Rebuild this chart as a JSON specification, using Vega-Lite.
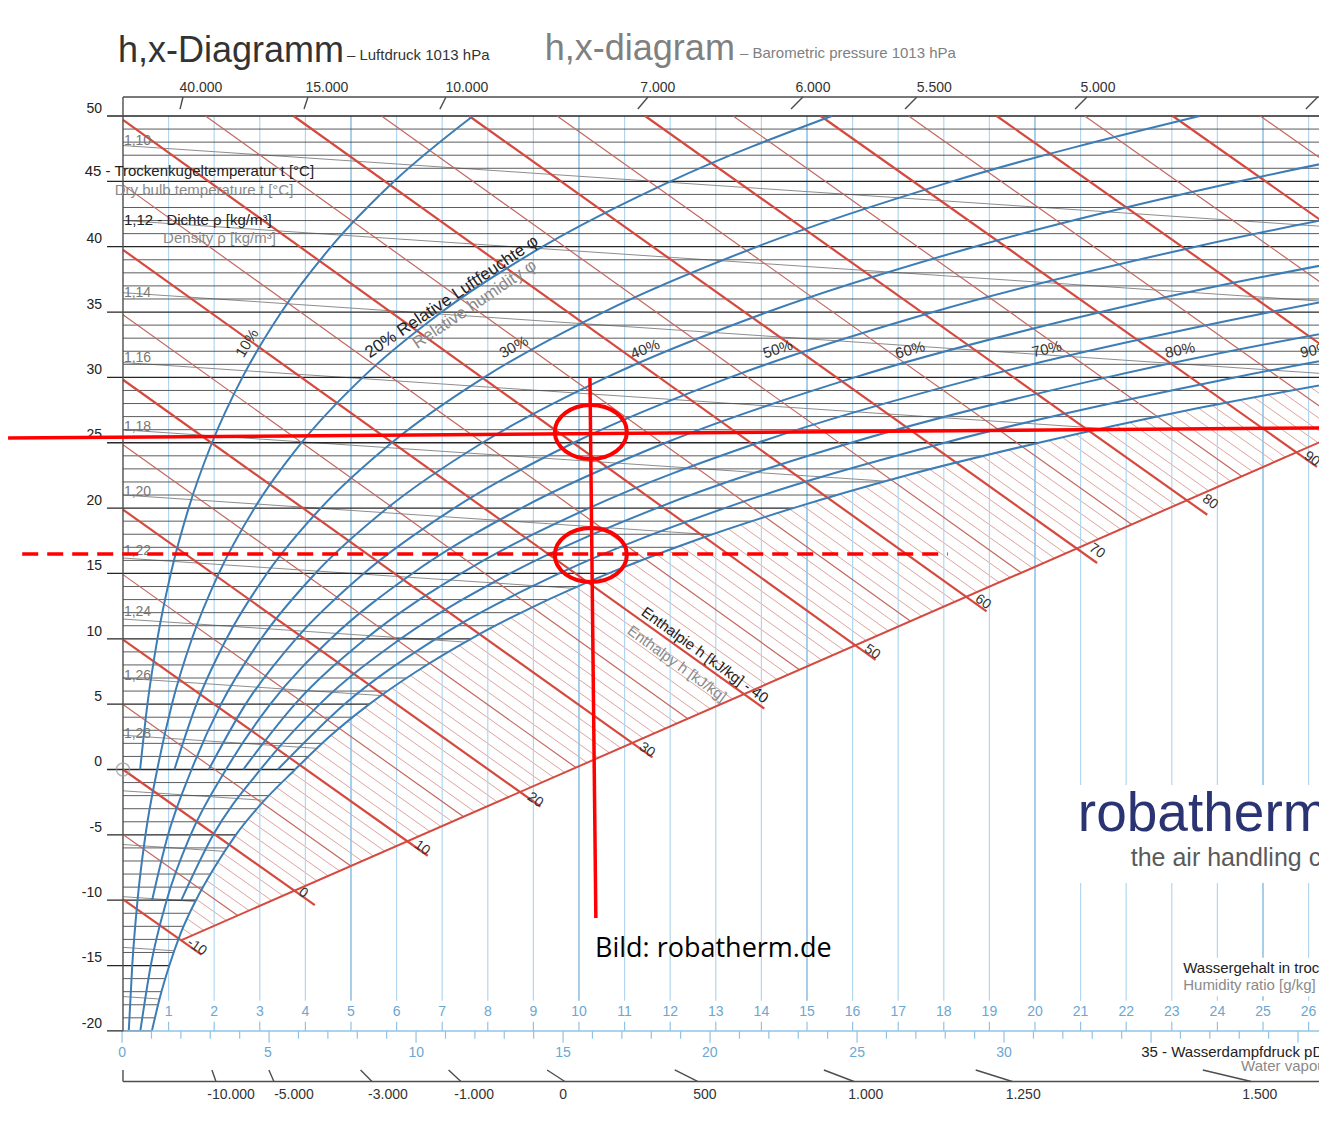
{
"$schema": "https://vega.github.io/schema/vega-lite/v6.json",
"width": 1319, "height": 1123, "autosize": "none", "padding": 0, "background": "white",
"config": {"view": {"stroke": null}, "font": "Liberation Sans"},
"encoding": {
 "x": {"field": "x", "type": "quantitative", "scale": {"domain": [-2.697, 26.228], "nice": false, "zero": false}, "axis": null},
 "y": {"field": "t", "type": "quantitative", "scale": {"domain": [-27.047, 58.875], "nice": false, "zero": false}, "axis": null}
},
"datasets": {
 "enth": [
  {"h":-10,"k":"A","x":0,"t":-9.94,"x2":1.721,"t2":-14.17},
  {"h":0,"k":"A","x":0,"t":0,"x2":4.207,"t2":-10.38},
  {"h":10,"k":"A","x":0,"t":9.94,"x2":6.684,"t2":-6.6},
  {"h":20,"k":"A","x":0,"t":19.88,"x2":9.153,"t2":-2.83},
  {"h":30,"k":"A","x":0,"t":29.82,"x2":11.612,"t2":0.92},
  {"h":40,"k":"A","x":0,"t":39.76,"x2":14.063,"t2":4.66},
  {"h":50,"k":"A","x":0,"t":49.7,"x2":16.505,"t2":8.39},
  {"h":60,"k":"A","x":3.74,"t":50,"x2":18.938,"t2":12.1},
  {"h":70,"k":"A","x":7.59,"t":50,"x2":21.362,"t2":15.8},
  {"h":80,"k":"A","x":11.45,"t":50,"x2":23.777,"t2":19.49},
  {"h":90,"k":"A","x":15.3,"t":50,"x2":26.184,"t2":23.16},
  {"h":100,"k":"A","x":19.16,"t":50,"x2":28.582,"t2":26.82},
  {"h":110,"k":"A","x":23.02,"t":50,"x2":30.971,"t2":30.47},
  {"h":-5,"k":"B","x":0,"t":-4.97,"x2":2.515,"t2":-11.17},
  {"h":5,"k":"B","x":0,"t":4.97,"x2":4.997,"t2":-7.38},
  {"h":15,"k":"B","x":0,"t":14.91,"x2":7.47,"t2":-3.61},
  {"h":25,"k":"B","x":0,"t":24.85,"x2":9.933,"t2":0.15},
  {"h":35,"k":"B","x":0,"t":34.79,"x2":12.388,"t2":3.89},
  {"h":45,"k":"B","x":0,"t":44.73,"x2":14.835,"t2":7.63},
  {"h":55,"k":"B","x":1.81,"t":50,"x2":17.272,"t2":11.35},
  {"h":65,"k":"B","x":5.67,"t":50,"x2":19.701,"t2":15.05},
  {"h":75,"k":"B","x":9.52,"t":50,"x2":22.121,"t2":18.75},
  {"h":85,"k":"B","x":13.38,"t":50,"x2":24.532,"t2":22.43},
  {"h":95,"k":"B","x":17.23,"t":50,"x2":26.934,"t2":26.09},
  {"h":105,"k":"B","x":21.09,"t":50,"x2":29.327,"t2":29.74},
  {"h":115,"k":"B","x":24.94,"t":50,"x2":31.712,"t2":33.38},
  {"h":-9,"k":"C","x":0,"t":-8.95,"x2":1.52,"t2":-12.69},
  {"h":-8,"k":"C","x":0,"t":-7.95,"x2":1.769,"t2":-12.31},
  {"h":-7,"k":"C","x":0,"t":-6.96,"x2":2.018,"t2":-11.93},
  {"h":-6,"k":"C","x":0,"t":-5.96,"x2":2.267,"t2":-11.55},
  {"h":-4,"k":"C","x":0,"t":-3.98,"x2":2.764,"t2":-10.79},
  {"h":-3,"k":"C","x":0,"t":-2.98,"x2":3.012,"t2":-10.41},
  {"h":-2,"k":"C","x":0,"t":-1.99,"x2":3.261,"t2":-10.03},
  {"h":-1,"k":"C","x":0,"t":-0.99,"x2":3.509,"t2":-9.66},
  {"h":1,"k":"C","x":0,"t":0.99,"x2":4.005,"t2":-8.9},
  {"h":2,"k":"C","x":0,"t":1.99,"x2":4.253,"t2":-8.52},
  {"h":3,"k":"C","x":0,"t":2.98,"x2":4.501,"t2":-8.14},
  {"h":4,"k":"C","x":0,"t":3.98,"x2":4.749,"t2":-7.76},
  {"h":6,"k":"C","x":0,"t":5.96,"x2":5.244,"t2":-7.01},
  {"h":7,"k":"C","x":0,"t":6.96,"x2":5.492,"t2":-6.63},
  {"h":8,"k":"C","x":0,"t":7.95,"x2":5.74,"t2":-6.25},
  {"h":9,"k":"C","x":0,"t":8.95,"x2":5.987,"t2":-5.87},
  {"h":11,"k":"C","x":0,"t":10.93,"x2":6.481,"t2":-5.12},
  {"h":12,"k":"C","x":0,"t":11.93,"x2":6.729,"t2":-4.74},
  {"h":13,"k":"C","x":0,"t":12.92,"x2":6.976,"t2":-4.37},
  {"h":14,"k":"C","x":0,"t":13.92,"x2":7.223,"t2":-3.99},
  {"h":16,"k":"C","x":0,"t":15.9,"x2":7.716,"t2":-3.24},
  {"h":17,"k":"C","x":0,"t":16.9,"x2":7.963,"t2":-2.86},
  {"h":18,"k":"C","x":0,"t":17.89,"x2":8.21,"t2":-2.48},
  {"h":19,"k":"C","x":0,"t":18.89,"x2":8.456,"t2":-2.11},
  {"h":21,"k":"C","x":0,"t":20.87,"x2":8.949,"t2":-1.35},
  {"h":22,"k":"C","x":0,"t":21.87,"x2":9.195,"t2":-0.98},
  {"h":23,"k":"C","x":0,"t":22.86,"x2":9.441,"t2":-0.6},
  {"h":24,"k":"C","x":0,"t":23.86,"x2":9.687,"t2":-0.23},
  {"h":26,"k":"C","x":0,"t":25.85,"x2":10.179,"t2":0.52},
  {"h":27,"k":"C","x":0,"t":26.84,"x2":10.425,"t2":0.9},
  {"h":28,"k":"C","x":0,"t":27.83,"x2":10.671,"t2":1.27},
  {"h":29,"k":"C","x":0,"t":28.83,"x2":10.916,"t2":1.65},
  {"h":31,"k":"C","x":0,"t":30.82,"x2":11.407,"t2":2.4},
  {"h":32,"k":"C","x":0,"t":31.81,"x2":11.653,"t2":2.77},
  {"h":33,"k":"C","x":0,"t":32.8,"x2":11.898,"t2":3.15},
  {"h":34,"k":"C","x":0,"t":33.8,"x2":12.143,"t2":3.52},
  {"h":36,"k":"C","x":0,"t":35.79,"x2":12.633,"t2":4.27},
  {"h":37,"k":"C","x":0,"t":36.78,"x2":12.878,"t2":4.64},
  {"h":38,"k":"C","x":0,"t":37.77,"x2":13.123,"t2":5.02},
  {"h":39,"k":"C","x":0,"t":38.77,"x2":13.368,"t2":5.39},
  {"h":41,"k":"C","x":0,"t":40.76,"x2":13.857,"t2":6.14},
  {"h":42,"k":"C","x":0,"t":41.75,"x2":14.102,"t2":6.51},
  {"h":43,"k":"C","x":0,"t":42.74,"x2":14.346,"t2":6.88},
  {"h":44,"k":"C","x":0,"t":43.74,"x2":14.59,"t2":7.25},
  {"h":46,"k":"C","x":0,"t":45.73,"x2":15.079,"t2":8.0},
  {"h":47,"k":"C","x":0,"t":46.72,"x2":15.323,"t2":8.37},
  {"h":48,"k":"C","x":0,"t":47.71,"x2":15.567,"t2":8.75},
  {"h":49,"k":"C","x":0,"t":48.71,"x2":15.811,"t2":9.12},
  {"h":51,"k":"C","x":0.27,"t":50,"x2":16.298,"t2":9.86},
  {"h":52,"k":"C","x":0.66,"t":50,"x2":16.542,"t2":10.23},
  {"h":53,"k":"C","x":1.04,"t":50,"x2":16.785,"t2":10.6},
  {"h":54,"k":"C","x":1.43,"t":50,"x2":17.029,"t2":10.98},
  {"h":56,"k":"C","x":2.2,"t":50,"x2":17.515,"t2":11.72},
  {"h":57,"k":"C","x":2.58,"t":50,"x2":17.759,"t2":12.09},
  {"h":58,"k":"C","x":2.97,"t":50,"x2":18.002,"t2":12.46},
  {"h":59,"k":"C","x":3.35,"t":50,"x2":18.245,"t2":12.83},
  {"h":61,"k":"C","x":4.12,"t":50,"x2":18.73,"t2":13.57},
  {"h":62,"k":"C","x":4.51,"t":50,"x2":18.973,"t2":13.94},
  {"h":63,"k":"C","x":4.9,"t":50,"x2":19.216,"t2":14.31},
  {"h":64,"k":"C","x":5.28,"t":50,"x2":19.458,"t2":14.68},
  {"h":66,"k":"C","x":6.05,"t":50,"x2":19.943,"t2":15.42},
  {"h":67,"k":"C","x":6.44,"t":50,"x2":20.185,"t2":15.79},
  {"h":68,"k":"C","x":6.82,"t":50,"x2":20.428,"t2":16.16},
  {"h":69,"k":"C","x":7.21,"t":50,"x2":20.67,"t2":16.53},
  {"h":71,"k":"C","x":7.98,"t":50,"x2":21.154,"t2":17.27},
  {"h":72,"k":"C","x":8.37,"t":50,"x2":21.396,"t2":17.64},
  {"h":73,"k":"C","x":8.75,"t":50,"x2":21.637,"t2":18.01},
  {"h":74,"k":"C","x":9.14,"t":50,"x2":21.879,"t2":18.38},
  {"h":76,"k":"C","x":9.91,"t":50,"x2":22.362,"t2":19.11},
  {"h":77,"k":"C","x":10.29,"t":50,"x2":22.604,"t2":19.48},
  {"h":78,"k":"C","x":10.68,"t":50,"x2":22.845,"t2":19.85},
  {"h":79,"k":"C","x":11.06,"t":50,"x2":23.086,"t2":20.22},
  {"h":81,"k":"C","x":11.83,"t":50,"x2":23.568,"t2":20.96},
  {"h":82,"k":"C","x":12.22,"t":50,"x2":23.809,"t2":21.32},
  {"h":83,"k":"C","x":12.61,"t":50,"x2":24.05,"t2":21.69},
  {"h":84,"k":"C","x":12.99,"t":50,"x2":24.291,"t2":22.06},
  {"h":86,"k":"C","x":13.76,"t":50,"x2":24.772,"t2":22.79},
  {"h":87,"k":"C","x":14.15,"t":50,"x2":25.013,"t2":23.16},
  {"h":88,"k":"C","x":14.53,"t":50,"x2":25.253,"t2":23.53},
  {"h":89,"k":"C","x":14.92,"t":50,"x2":25.493,"t2":23.89},
  {"h":91,"k":"C","x":15.69,"t":50,"x2":25.974,"t2":24.63},
  {"h":92,"k":"C","x":16.07,"t":50,"x2":26.214,"t2":24.99},
  {"h":93,"k":"C","x":16.46,"t":50,"x2":26.454,"t2":25.36},
  {"h":94,"k":"C","x":16.85,"t":50,"x2":26.694,"t2":25.73},
  {"h":96,"k":"C","x":17.62,"t":50,"x2":27.174,"t2":26.46},
  {"h":97,"k":"C","x":18.0,"t":50,"x2":27.413,"t2":26.82}
 ],
 "rh": [
  {"p":10,"x":0.3754,"t":0},{"p":10,"x":0.5361,"t":5},{"p":10,"x":0.7549,"t":10},{"p":10,"x":1.0488,"t":15},{"p":10,"x":1.4393,"t":20},{"p":10,"x":1.9519,"t":25},{"p":10,"x":2.6179,"t":30},{"p":10,"x":3.4745,"t":35},{"p":10,"x":4.5663,"t":40},{"p":10,"x":5.946,"t":45},{"p":10,"x":7.676,"t":50},
  {"p":20,"x":0.1267,"t":-20},{"p":20,"x":0.2029,"t":-15},{"p":20,"x":0.3193,"t":-10},{"p":20,"x":0.4936,"t":-5},{"p":20,"x":0.7513,"t":0},{"p":20,"x":1.073,"t":5},{"p":20,"x":1.5116,"t":10},{"p":20,"x":2.1012,"t":15},{"p":20,"x":2.8853,"t":20},{"p":20,"x":3.916,"t":25},{"p":20,"x":5.2579,"t":30},{"p":20,"x":6.9881,"t":35},{"p":20,"x":9.2002,"t":40},{"p":20,"x":12.0067,"t":45},{"p":20,"x":15.5439,"t":50},
  {"p":30,"x":1.1276,"t":0},{"p":30,"x":1.611,"t":5},{"p":30,"x":2.2701,"t":10},{"p":30,"x":3.1571,"t":15},{"p":30,"x":4.3379,"t":20},{"p":30,"x":5.8927,"t":25},{"p":30,"x":7.9202,"t":30},{"p":30,"x":10.5413,"t":35},{"p":30,"x":13.9031,"t":40},{"p":30,"x":18.1857,"t":45},{"p":30,"x":23.611,"t":50},
  {"p":40,"x":0.6388,"t":-10},{"p":40,"x":0.9879,"t":-5},{"p":40,"x":1.5044,"t":0},{"p":40,"x":2.1498,"t":5},{"p":40,"x":3.0305,"t":10},{"p":40,"x":4.2167,"t":15},{"p":40,"x":5.7974,"t":20},{"p":40,"x":7.8817,"t":25},{"p":40,"x":10.6054,"t":30},{"p":40,"x":14.1349,"t":35},{"p":40,"x":18.6767,"t":40},{"p":40,"x":24.4863,"t":45},{"p":40,"x":31.885,"t":50},
  {"p":50,"x":1.8817,"t":0},{"p":50,"x":2.6896,"t":5},{"p":50,"x":3.7927,"t":10},{"p":50,"x":5.2798,"t":15},{"p":50,"x":7.2637,"t":20},{"p":50,"x":9.8835,"t":25},{"p":50,"x":13.3135,"t":30},{"p":50,"x":17.7696,"t":35},{"p":50,"x":23.5223,"t":40},{"p":50,"x":30.912,"t":45},
  {"p":60,"x":0.3803,"t":-20},{"p":60,"x":0.6091,"t":-15},{"p":60,"x":0.9587,"t":-10},{"p":60,"x":1.4831,"t":-5},{"p":60,"x":2.2594,"t":0},{"p":60,"x":3.2303,"t":5},{"p":60,"x":4.5569,"t":10},{"p":60,"x":6.3465,"t":15},{"p":60,"x":8.7369,"t":20},{"p":60,"x":11.8979,"t":25},{"p":60,"x":16.045,"t":30},{"p":60,"x":21.446,"t":35},{"p":60,"x":28.442,"t":40},
  {"p":70,"x":2.6375,"t":0},{"p":70,"x":3.772,"t":5},{"p":70,"x":5.3228,"t":10},{"p":70,"x":7.4169,"t":15},{"p":70,"x":10.2168,"t":20},{"p":70,"x":13.9254,"t":25},{"p":70,"x":18.7999,"t":30},{"p":70,"x":25.165,"t":35},{"p":70,"x":33.437,"t":40},
  {"p":80,"x":1.279,"t":-10},{"p":80,"x":1.979,"t":-5},{"p":80,"x":3.0161,"t":0},{"p":80,"x":4.3145,"t":5},{"p":80,"x":6.0907,"t":10},{"p":80,"x":8.491,"t":15},{"p":80,"x":11.7038,"t":20},{"p":80,"x":15.9658,"t":25},{"p":80,"x":21.5787,"t":30},{"p":80,"x":28.927,"t":35},
  {"p":90,"x":3.3952,"t":0},{"p":90,"x":4.8581,"t":5},{"p":90,"x":6.8604,"t":10},{"p":90,"x":9.5686,"t":15},{"p":90,"x":13.1977,"t":20},{"p":90,"x":18.0193,"t":25},{"p":90,"x":24.3818,"t":30},{"p":90,"x":32.733,"t":35},
  {"p":100,"x":0.634,"t":-20},{"p":100,"x":0.805,"t":-17.5},{"p":100,"x":1.016,"t":-15},{"p":100,"x":1.269,"t":-12.5},{"p":100,"x":1.6,"t":-10},{"p":100,"x":2.005,"t":-7.5},{"p":100,"x":2.476,"t":-5},{"p":100,"x":3.064,"t":-2.5},{"p":100,"x":3.775,"t":0},{"p":100,"x":4.524,"t":2.5},{"p":100,"x":5.403,"t":5},{"p":100,"x":6.436,"t":7.5},{"p":100,"x":7.632,"t":10},{"p":100,"x":9.028,"t":12.5},{"p":100,"x":10.65,"t":15},{"p":100,"x":12.526,"t":17.5},{"p":100,"x":14.699,"t":20},{"p":100,"x":17.175,"t":22.5},{"p":100,"x":20.086,"t":25},{"p":100,"x":23.375,"t":27.5},{"p":100,"x":27.21,"t":30}
 ],
 "fill": [
  {"x":0.634,"t":-20},{"x":0.805,"t":-17.5},{"x":1.016,"t":-15},{"x":1.269,"t":-12.5},{"x":1.6,"t":-10},{"x":2.005,"t":-7.5},{"x":2.476,"t":-5},{"x":3.064,"t":-2.5},{"x":3.775,"t":0},{"x":4.524,"t":2.5},{"x":5.403,"t":5},{"x":6.436,"t":7.5},{"x":7.632,"t":10},{"x":9.028,"t":12.5},{"x":10.65,"t":15},{"x":12.526,"t":17.5},{"x":14.699,"t":20},{"x":17.175,"t":22.5},{"x":20.086,"t":25},{"x":23.375,"t":27.5},{"x":27.21,"t":30},{"x":30,"t":32},{"x":30,"t":51.5}
 ],
 "iso": [
  {"t":-20,"x":-0.35,"x2":0.634,"m":1},{"t":-19,"x":0,"x2":0.698,"m":0},{"t":-18,"x":0,"x2":0.77,"m":0},{"t":-17,"x":0,"x2":0.844,"m":0},{"t":-16,"x":0,"x2":0.928,"m":0},
  {"t":-15,"x":-0.35,"x2":1.016,"m":1},{"t":-14,"x":0,"x2":1.114,"m":0},{"t":-13,"x":0,"x2":1.22,"m":0},{"t":-12,"x":0,"x2":1.336,"m":0},{"t":-11,"x":0,"x2":1.463,"m":0},
  {"t":-10,"x":-0.35,"x2":1.6,"m":1},{"t":-9,"x":0,"x2":1.748,"m":0},{"t":-8,"x":0,"x2":1.908,"m":0},{"t":-7,"x":0,"x2":2.08,"m":0},{"t":-6,"x":0,"x2":2.27,"m":0},
  {"t":-5,"x":-0.35,"x2":2.476,"m":1},{"t":-4,"x":0,"x2":2.697,"m":0},{"t":-3,"x":0,"x2":2.936,"m":0},{"t":-2,"x":0,"x2":3.194,"m":0},{"t":-1,"x":0,"x2":3.473,"m":0},
  {"t":0,"x":-0.35,"x2":3.775,"m":1},{"t":1,"x":0,"x2":4.06,"m":0},{"t":2,"x":0,"x2":4.364,"m":0},{"t":3,"x":0,"x2":4.689,"m":0},{"t":4,"x":0,"x2":5.034,"m":0},
  {"t":5,"x":-0.35,"x2":5.403,"m":1},{"t":6,"x":0,"x2":5.795,"m":0},{"t":7,"x":0,"x2":6.212,"m":0},{"t":8,"x":0,"x2":6.657,"m":0},{"t":9,"x":0,"x2":7.129,"m":0},
  {"t":10,"x":-0.35,"x2":7.632,"m":1},{"t":11,"x":0,"x2":8.165,"m":0},{"t":12,"x":0,"x2":8.732,"m":0},{"t":13,"x":0,"x2":9.334,"m":0},{"t":14,"x":0,"x2":9.973,"m":0},
  {"t":15,"x":-0.35,"x2":10.65,"m":1},{"t":16,"x":0,"x2":11.369,"m":0},{"t":17,"x":0,"x2":12.131,"m":0},{"t":18,"x":0,"x2":12.938,"m":0},{"t":19,"x":0,"x2":13.794,"m":0},
  {"t":20,"x":-0.35,"x2":14.699,"m":1},{"t":21,"x":0,"x2":15.656,"m":0},{"t":22,"x":0,"x2":16.673,"m":0},{"t":23,"x":0,"x2":17.744,"m":0},{"t":24,"x":0,"x2":18.884,"m":0},
  {"t":25,"x":-0.35,"x2":20.086,"m":1},{"t":26,"x":0,"x2":21.358,"m":0},{"t":27,"x":0,"x2":22.702,"m":0},{"t":28,"x":0,"x2":24.122,"m":0},{"t":29,"x":0,"x2":25.623,"m":0},
  {"t":30,"x":-0.35,"x2":27,"m":1},{"t":31,"x":0,"x2":27,"m":0},{"t":32,"x":0,"x2":27,"m":0},{"t":33,"x":0,"x2":27,"m":0},{"t":34,"x":0,"x2":27,"m":0},
  {"t":35,"x":-0.35,"x2":27,"m":1},{"t":36,"x":0,"x2":27,"m":0},{"t":37,"x":0,"x2":27,"m":0},{"t":38,"x":0,"x2":27,"m":0},{"t":39,"x":0,"x2":27,"m":0},
  {"t":40,"x":-0.35,"x2":27,"m":1},{"t":41,"x":0,"x2":27,"m":0},{"t":42,"x":0,"x2":27,"m":0},{"t":43,"x":0,"x2":27,"m":0},{"t":44,"x":0,"x2":27,"m":0},
  {"t":45,"x":-0.35,"x2":27,"m":1},{"t":46,"x":0,"x2":27,"m":0},{"t":47,"x":0,"x2":27,"m":0},{"t":48,"x":0,"x2":27,"m":0},{"t":49,"x":0,"x2":27,"m":0},
  {"t":50,"x":-0.35,"x2":27,"m":1}
 ],
 "rho": [
  {"r":1.10,"x":0,"t":47.74,"x2":26.5,"t2":41.51},
  {"r":1.12,"x":0,"t":42.01,"x2":26.5,"t2":35.78},
  {"r":1.14,"x":0,"t":36.48,"x2":26.5,"t2":30.25},
  {"r":1.16,"x":0,"t":31.14,"x2":21.5,"t2":26.09},
  {"r":1.18,"x":0,"t":25.99,"x2":16.72,"t2":22.06},
  {"r":1.20,"x":0,"t":21.0,"x2":12.92,"t2":17.96},
  {"r":1.22,"x":0,"t":16.18,"x2":9.89,"t2":13.86},
  {"r":1.24,"x":0,"t":11.51,"x2":7.5,"t2":9.75},
  {"r":1.26,"x":0,"t":6.99,"x2":5.65,"t2":5.66},
  {"r":1.28,"x":0,"t":2.62,"x2":4.24,"t2":1.62},
  {"r":1.30,"x":0,"t":-1.63,"x2":3.1,"t2":-2.36},
  {"r":1.32,"x":0,"t":-5.74,"x2":2.21,"t2":-6.26},
  {"r":1.34,"x":0,"t":-9.73,"x2":1.58,"t2":-10.1},
  {"r":1.36,"x":0,"t":-13.61,"x2":1.12,"t2":-13.87},
  {"r":1.38,"x":0,"t":-17.37,"x2":0.8,"t2":-17.56}
 ],
 "vl": [
  {"x":1,"t":50,"t2":-17.7,"m":0},{"x":2,"t":50,"t2":-17.7,"m":0},{"x":3,"t":50,"t2":-17.7,"m":0},{"x":4,"t":50,"t2":-17.7,"m":0},{"x":5,"t":50,"t2":-17.7,"m":1},
  {"x":6,"t":50,"t2":-17.7,"m":0},{"x":7,"t":50,"t2":-17.7,"m":0},{"x":8,"t":50,"t2":-17.7,"m":0},{"x":9,"t":50,"t2":-17.7,"m":0},{"x":10,"t":50,"t2":-17.7,"m":1},
  {"x":11,"t":50,"t2":-17.7,"m":0},{"x":12,"t":50,"t2":-17.7,"m":0},{"x":13,"t":50,"t2":-17.7,"m":0},{"x":14,"t":50,"t2":-17.7,"m":0},{"x":15,"t":50,"t2":-17.7,"m":1},
  {"x":16,"t":50,"t2":-17.7,"m":0},{"x":17,"t":50,"t2":-17.7,"m":0},{"x":18,"t":50,"t2":-17.7,"m":0},{"x":19,"t":50,"t2":-17.7,"m":0},{"x":20,"t":50,"t2":-17.7,"m":1},
  {"x":21,"t":50,"t2":-17.7,"m":0},{"x":22,"t":50,"t2":-17.7,"m":0},{"x":23,"t":50,"t2":-17.7,"m":0},{"x":24,"t":50,"t2":-17.7,"m":0},{"x":25,"t":50,"t2":-17.7,"m":1},
  {"x":26,"t":50,"t2":-17.7,"m":0}
 ],
 "tk": [
  {"x":1,"t":-19.3,"t2":-20},{"x":2,"t":-19.3,"t2":-20},{"x":3,"t":-19.3,"t2":-20},{"x":4,"t":-19.3,"t2":-20},{"x":5,"t":-19.3,"t2":-20},{"x":6,"t":-19.3,"t2":-20},{"x":7,"t":-19.3,"t2":-20},{"x":8,"t":-19.3,"t2":-20},{"x":9,"t":-19.3,"t2":-20},{"x":10,"t":-19.3,"t2":-20},{"x":11,"t":-19.3,"t2":-20},{"x":12,"t":-19.3,"t2":-20},{"x":13,"t":-19.3,"t2":-20},
  {"x":14,"t":-19.3,"t2":-20},{"x":15,"t":-19.3,"t2":-20},{"x":16,"t":-19.3,"t2":-20},{"x":17,"t":-19.3,"t2":-20},{"x":18,"t":-19.3,"t2":-20},{"x":19,"t":-19.3,"t2":-20},{"x":20,"t":-19.3,"t2":-20},{"x":21,"t":-19.3,"t2":-20},{"x":22,"t":-19.3,"t2":-20},{"x":23,"t":-19.3,"t2":-20},{"x":24,"t":-19.3,"t2":-20},{"x":25,"t":-19.3,"t2":-20},{"x":26,"t":-19.3,"t2":-20},
  {"x":-0.02,"t":-20,"t2":-20.9},{"x":0.625,"t":-20,"t2":-20.6},{"x":1.269,"t":-20,"t2":-20.6},{"x":1.914,"t":-20,"t2":-20.6},{"x":2.559,"t":-20,"t2":-20.6},{"x":3.204,"t":-20,"t2":-20.9},
  {"x":3.848,"t":-20,"t2":-20.6},{"x":4.493,"t":-20,"t2":-20.6},{"x":5.138,"t":-20,"t2":-20.6},{"x":5.782,"t":-20,"t2":-20.6},{"x":6.427,"t":-20,"t2":-20.9},
  {"x":7.072,"t":-20,"t2":-20.6},{"x":7.717,"t":-20,"t2":-20.6},{"x":8.361,"t":-20,"t2":-20.6},{"x":9.006,"t":-20,"t2":-20.6},{"x":9.651,"t":-20,"t2":-20.9},
  {"x":10.295,"t":-20,"t2":-20.6},{"x":10.94,"t":-20,"t2":-20.6},{"x":11.585,"t":-20,"t2":-20.6},{"x":12.229,"t":-20,"t2":-20.6},{"x":12.874,"t":-20,"t2":-20.9},
  {"x":13.519,"t":-20,"t2":-20.6},{"x":14.163,"t":-20,"t2":-20.6},{"x":14.808,"t":-20,"t2":-20.6},{"x":15.453,"t":-20,"t2":-20.6},{"x":16.098,"t":-20,"t2":-20.9},
  {"x":16.742,"t":-20,"t2":-20.6},{"x":17.387,"t":-20,"t2":-20.6},{"x":18.032,"t":-20,"t2":-20.6},{"x":18.676,"t":-20,"t2":-20.6},{"x":19.321,"t":-20,"t2":-20.9},
  {"x":19.966,"t":-20,"t2":-20.6},{"x":20.61,"t":-20,"t2":-20.6},{"x":21.255,"t":-20,"t2":-20.6},{"x":21.9,"t":-20,"t2":-20.6},{"x":22.545,"t":-20,"t2":-20.9},
  {"x":23.189,"t":-20,"t2":-20.6},{"x":23.834,"t":-20,"t2":-20.6},{"x":24.479,"t":-20,"t2":-20.6},{"x":25.123,"t":-20,"t2":-20.6},{"x":25.768,"t":-20,"t2":-20.9}
 ],
 "frame": [
  {"f":"b","x":0,"t":-20,"x2":27,"t2":-20},
  {"f":"d","x":0,"t":51.45,"x2":27,"t2":51.45},
  {"f":"d","x":0,"t":51.45,"x2":0,"t2":-20},
  {"f":"d","x":0,"t":-23.87,"x2":27,"t2":-23.87},
  {"f":"d","x":0,"t":-22.99,"x2":0,"t2":-23.87},
  {"f":"d","x":1.316,"t":51.45,"x2":1.25,"t2":50.53},
  {"f":"d","x":4.057,"t":51.45,"x2":3.97,"t2":50.53},
  {"f":"d","x":7.083,"t":51.45,"x2":6.95,"t2":50.53},
  {"f":"d","x":11.513,"t":51.45,"x2":11.29,"t2":50.53},
  {"f":"d","x":14.91,"t":51.45,"x2":14.65,"t2":50.53},
  {"f":"d","x":17.41,"t":51.45,"x2":17.15,"t2":50.53},
  {"f":"d","x":21.14,"t":51.45,"x2":20.88,"t2":50.53},
  {"f":"d","x":26.2,"t":51.45,"x2":25.94,"t2":50.53},
  {"f":"d","x":1.95,"t":-22.99,"x2":2.04,"t2":-23.87},
  {"f":"d","x":3.2,"t":-22.99,"x2":3.31,"t2":-23.87},
  {"f":"d","x":5.21,"t":-22.99,"x2":5.46,"t2":-23.87},
  {"f":"d","x":7.14,"t":-22.99,"x2":7.41,"t2":-23.87},
  {"f":"d","x":9.3,"t":-22.99,"x2":9.69,"t2":-23.87},
  {"f":"d","x":12.1,"t":-22.99,"x2":12.6,"t2":-23.87},
  {"f":"d","x":15.37,"t":-22.99,"x2":16.03,"t2":-23.87},
  {"f":"d","x":18.7,"t":-22.99,"x2":19.5,"t2":-23.87},
  {"f":"d","x":23.68,"t":-22.99,"x2":24.74,"t2":-23.87},
  {"f":"r","x":1.271,"t":-13.07,"x2":27.2,"t2":26.5}
 ],
 "wb": [
  {"x":20.77,"t":-1.19,"x2":27,"t2":-8.68},
  {"x":23.1,"t":-14.4,"x2":27,"t2":-17.35}
 ],
 "txt": [
  {"g":"T","x":-0.11,"t":54.13,"s":"h,x-Diagramm"},
  {"g":"Te","x":9.25,"t":54.28,"s":"h,x-diagram"},
  {"g":"S","x":4.91,"t":54.28,"s":"– Luftdruck 1013 hPa"},
  {"g":"Se","x":13.53,"t":54.43,"s":"– Barometric pressure 1013 hPa"},
  {"g":"K","x":-0.84,"t":45.41,"s":"45 - Trockenkugeltemperatur t [°C]"},
  {"g":"K","x":0.02,"t":41.66,"s":"1,12 - Dichte ρ [kg/m³]"},
  {"g":"K","x":23.25,"t":-15.57,"s":"Wassergehalt in trockener Luft x [g/kg]"},
  {"g":"K","x":22.33,"t":-22.0,"s":"35 - Wasserdampfdruck pD [hPa]"},
  {"g":"G","x":-0.18,"t":43.96,"s":"Dry bulb temperature t [°C]"},
  {"g":"G","x":0.88,"t":40.28,"s":"Density ρ [kg/m³]"},
  {"g":"G","x":23.25,"t":-16.87,"s":"Humidity ratio [g/kg]"},
  {"g":"G","x":24.52,"t":-23.07,"s":"Water vapour pressure pD [hPa]"},
  {"g":"D","x":0.02,"t":47.76,"s":"1,10"},
  {"g":"D","x":0.02,"t":36.15,"s":"1,14"},
  {"g":"D","x":0.02,"t":31.18,"s":"1,16"},
  {"g":"D","x":0.02,"t":25.9,"s":"1,18"},
  {"g":"D","x":0.02,"t":20.93,"s":"1,20"},
  {"g":"D","x":0.02,"t":16.41,"s":"1,22"},
  {"g":"D","x":0.02,"t":11.74,"s":"1,24"},
  {"g":"D","x":0.02,"t":6.85,"s":"1,26"},
  {"g":"D","x":0.02,"t":2.41,"s":"1,28"},
  {"g":"R","x":20.94,"t":-4.7,"s":"robatherm"},
  {"g":"Ra","x":22.1,"t":-7.38,"s":"the air handling company"},
  {"g":"Bd","x":10.35,"t":-14.35,"s":"Bild: robatherm.de"},
  {"g":"Y","x":-0.46,"t":50.25,"s":"50"},
  {"g":"Y","x":-0.46,"t":40.25,"s":"40"},
  {"g":"Y","x":-0.46,"t":35.25,"s":"35"},
  {"g":"Y","x":-0.46,"t":30.25,"s":"30"},
  {"g":"Y","x":-0.46,"t":25.25,"s":"25"},
  {"g":"Y","x":-0.46,"t":20.25,"s":"20"},
  {"g":"Y","x":-0.46,"t":15.25,"s":"15"},
  {"g":"Y","x":-0.46,"t":10.25,"s":"10"},
  {"g":"Y","x":-0.46,"t":5.25,"s":"5"},
  {"g":"Y","x":-0.46,"t":0.25,"s":"0"},
  {"g":"Y","x":-0.46,"t":-4.75,"s":"-5"},
  {"g":"Y","x":-0.46,"t":-9.75,"s":"-10"},
  {"g":"Y","x":-0.46,"t":-14.75,"s":"-15"},
  {"g":"Y","x":-0.46,"t":-19.75,"s":"-20"},
  {"g":"C","x":1.71,"t":52.14,"s":"40.000"},
  {"g":"C","x":4.47,"t":52.14,"s":"15.000"},
  {"g":"C","x":7.54,"t":52.14,"s":"10.000"},
  {"g":"C","x":11.73,"t":52.14,"s":"7.000"},
  {"g":"C","x":15.13,"t":52.14,"s":"6.000"},
  {"g":"C","x":17.79,"t":52.14,"s":"5.500"},
  {"g":"C","x":21.38,"t":52.14,"s":"5.000"},
  {"g":"C","x":2.37,"t":-24.9,"s":"-10.000"},
  {"g":"C","x":3.75,"t":-24.9,"s":"-5.000"},
  {"g":"C","x":5.81,"t":-24.9,"s":"-3.000"},
  {"g":"C","x":7.7,"t":-24.9,"s":"-1.000"},
  {"g":"C","x":9.65,"t":-24.9,"s":"0"},
  {"g":"C","x":12.76,"t":-24.9,"s":"500"},
  {"g":"C","x":16.29,"t":-24.9,"s":"1.000"},
  {"g":"C","x":19.74,"t":-24.9,"s":"1.250"},
  {"g":"C","x":24.93,"t":-24.9,"s":"1.500"},
  {"g":"N","x":1,"t":-18.55,"s":"1"},{"g":"N","x":2,"t":-18.55,"s":"2"},{"g":"N","x":3,"t":-18.55,"s":"3"},{"g":"N","x":4,"t":-18.55,"s":"4"},{"g":"N","x":5,"t":-18.55,"s":"5"},{"g":"N","x":6,"t":-18.55,"s":"6"},{"g":"N","x":7,"t":-18.55,"s":"7"},{"g":"N","x":8,"t":-18.55,"s":"8"},{"g":"N","x":9,"t":-18.55,"s":"9"},{"g":"N","x":10,"t":-18.55,"s":"10"},{"g":"N","x":11,"t":-18.55,"s":"11"},{"g":"N","x":12,"t":-18.55,"s":"12"},{"g":"N","x":13,"t":-18.55,"s":"13"},
  {"g":"N","x":14,"t":-18.55,"s":"14"},{"g":"N","x":15,"t":-18.55,"s":"15"},{"g":"N","x":16,"t":-18.55,"s":"16"},{"g":"N","x":17,"t":-18.55,"s":"17"},{"g":"N","x":18,"t":-18.55,"s":"18"},{"g":"N","x":19,"t":-18.55,"s":"19"},{"g":"N","x":20,"t":-18.55,"s":"20"},{"g":"N","x":21,"t":-18.55,"s":"21"},{"g":"N","x":22,"t":-18.55,"s":"22"},{"g":"N","x":23,"t":-18.55,"s":"23"},{"g":"N","x":24,"t":-18.55,"s":"24"},{"g":"N","x":25,"t":-18.55,"s":"25"},{"g":"N","x":26,"t":-18.55,"s":"26"},
  {"g":"N","x":-0.02,"t":-21.68,"s":"0"},{"g":"N","x":3.18,"t":-21.68,"s":"5"},{"g":"N","x":6.43,"t":-21.68,"s":"10"},{"g":"N","x":9.65,"t":-21.68,"s":"15"},{"g":"N","x":12.87,"t":-21.68,"s":"20"},{"g":"N","x":16.1,"t":-21.68,"s":"25"},{"g":"N","x":19.32,"t":-21.68,"s":"30"},
  {"g":"P","p":10,"x":2.72,"t":32.63,"s":"10%"},
  {"g":"P","p":30,"x":8.57,"t":32.33,"s":"30%"},
  {"g":"P","p":40,"x":11.45,"t":32.17,"s":"40%"},
  {"g":"P","p":50,"x":14.36,"t":32.17,"s":"50%"},
  {"g":"P","p":60,"x":17.26,"t":32.1,"s":"60%"},
  {"g":"P","p":70,"x":20.26,"t":32.17,"s":"70%"},
  {"g":"P","p":80,"x":23.18,"t":32.1,"s":"80%"},
  {"g":"P","p":90,"x":26.14,"t":32.1,"s":"90%"},
  {"g":"E","x":1.62,"t":-13.58,"s":"-10"},
  {"g":"E","x":3.95,"t":-9.45,"s":"0"},
  {"g":"E","x":6.56,"t":-6.01,"s":"10"},
  {"g":"E","x":9.04,"t":-2.33,"s":"20"},
  {"g":"E","x":11.49,"t":1.49,"s":"30"},
  {"g":"E","x":16.43,"t":8.99,"s":"50"},
  {"g":"E","x":18.86,"t":12.82,"s":"60"},
  {"g":"E","x":21.36,"t":16.72,"s":"70"},
  {"g":"E","x":23.84,"t":20.47,"s":"80"},
  {"g":"E","x":26.07,"t":23.76,"s":"90"},
  {"g":"L","x":7.21,"t":36.15,"s":"20% Relative Luftfeuchte φ"},
  {"g":"Le","x":7.71,"t":35.58,"s":"Relative humidity φ"},
  {"g":"H","x":12.76,"t":8.76,"s":"Enthalpie h [kJ/kg] - 40"},
  {"g":"He","x":12.15,"t":8.11,"s":"Enthalpy h [kJ/kg]"}
 ],
 "ann": [
  {"f":"s","x":-2.52,"t":25.36,"x2":26.23,"t2":26.13},
  {"f":"s","x":10.24,"t":30.03,"x2":10.37,"t2":-11.36},
  {"f":"d","x":-2.21,"t":16.49,"x2":18.09,"t2":16.49}
 ],
 "ell": [{"x":10.26,"t":25.82},{"x":10.26,"t":16.41}]
},
"layer": [
 {"data": {"name": "enth"}, "transform": [{"filter": "datum.k == 'C'"}], "mark": {"type": "rule", "color": "#d99a93", "strokeWidth": 0.9}, "encoding": {"x2": {"field": "x2"}, "y2": {"field": "t2"}}},
 {"data": {"name": "fill"}, "mark": {"type": "area", "orient": "horizontal", "color": "white", "opacity": 1, "interpolate": "monotone"}, "encoding": {"x2": {"datum": 0}}},
 {"data": {"name": "vl"}, "transform": [{"filter": "datum.m == 0"}], "mark": {"type": "rule", "color": "#b3d6ee", "strokeWidth": 1.2}, "encoding": {"y2": {"field": "t2"}}},
 {"data": {"name": "vl"}, "transform": [{"filter": "datum.m == 1"}], "mark": {"type": "rule", "color": "#92c3e4", "strokeWidth": 1.6}, "encoding": {"y2": {"field": "t2"}}},
 {"data": {"name": "tk"}, "mark": {"type": "rule", "color": "#92c3e4", "strokeWidth": 1.2}, "encoding": {"y2": {"field": "t2"}}},
 {"data": {"name": "wb"}, "mark": {"type": "rect", "color": "white"}, "encoding": {"x2": {"field": "x2"}, "y2": {"field": "t2"}}},
 {"data": {"name": "rho"}, "mark": {"type": "rule", "color": "#8d8d8d", "strokeWidth": 1}, "encoding": {"x2": {"field": "x2"}, "y2": {"field": "t2"}}},
 {"data": {"name": "iso"}, "transform": [{"filter": "datum.m == 0"}], "mark": {"type": "rule", "color": "#4a4a4a", "strokeWidth": 0.9}, "encoding": {"x2": {"field": "x2"}}},
 {"data": {"name": "iso"}, "transform": [{"filter": "datum.m == 1"}], "mark": {"type": "rule", "color": "#262626", "strokeWidth": 1.3}, "encoding": {"x2": {"field": "x2"}}},
 {"data": {"name": "enth"}, "transform": [{"filter": "datum.k == 'B'"}], "mark": {"type": "rule", "color": "#c4675e", "strokeWidth": 1.2}, "encoding": {"x2": {"field": "x2"}, "y2": {"field": "t2"}}},
 {"data": {"name": "enth"}, "transform": [{"filter": "datum.k == 'A'"}], "mark": {"type": "rule", "color": "#d5493e", "strokeWidth": 2.2}, "encoding": {"x2": {"field": "x2"}, "y2": {"field": "t2"}}},
 {"data": {"name": "rh"}, "mark": {"type": "line", "color": "#3d7db6", "strokeWidth": 2, "interpolate": "monotone"}, "encoding": {"detail": {"field": "p", "type": "nominal"}}},
 {"data": {"name": "frame"}, "transform": [{"filter": "datum.f == 'b'"}], "mark": {"type": "rule", "color": "#92c3e4", "strokeWidth": 1.5}, "encoding": {"x2": {"field": "x2"}, "y2": {"field": "t2"}}},
 {"data": {"name": "frame"}, "transform": [{"filter": "datum.f == 'd'"}], "mark": {"type": "rule", "color": "#4d4d4d", "strokeWidth": 1.4}, "encoding": {"x2": {"field": "x2"}, "y2": {"field": "t2"}}},
 {"data": {"name": "frame"}, "transform": [{"filter": "datum.f == 'r'"}], "mark": {"type": "rule", "color": "#d5493e", "strokeWidth": 2}, "encoding": {"x2": {"field": "x2"}, "y2": {"field": "t2"}}},
 {"data": {"values": [{"x": 0, "t": 0}]}, "mark": {"type": "point", "shape": "circle", "size": 170, "filled": false, "color": "#999999", "strokeWidth": 1.5}},
 {"data": {"name": "txt"}, "transform": [{"filter": "datum.g == 'T'"}], "mark": {"type": "text", "align": "left", "baseline": "alphabetic", "fontSize": 36, "color": "#333333"}, "encoding": {"text": {"field": "s", "type": "nominal"}}},
 {"data": {"name": "txt"}, "transform": [{"filter": "datum.g == 'Te'"}], "mark": {"type": "text", "align": "left", "baseline": "alphabetic", "fontSize": 36, "color": "#808080"}, "encoding": {"text": {"field": "s", "type": "nominal"}}},
 {"data": {"name": "txt"}, "transform": [{"filter": "datum.g == 'S'"}], "mark": {"type": "text", "align": "left", "baseline": "alphabetic", "fontSize": 15, "color": "#333333"}, "encoding": {"text": {"field": "s", "type": "nominal"}}},
 {"data": {"name": "txt"}, "transform": [{"filter": "datum.g == 'Se'"}], "mark": {"type": "text", "align": "left", "baseline": "alphabetic", "fontSize": 15, "color": "#808080"}, "encoding": {"text": {"field": "s", "type": "nominal"}}},
 {"data": {"name": "txt"}, "transform": [{"filter": "datum.g == 'K'"}], "mark": {"type": "text", "align": "left", "baseline": "alphabetic", "fontSize": 15, "color": "#222222"}, "encoding": {"text": {"field": "s", "type": "nominal"}}},
 {"data": {"name": "txt"}, "transform": [{"filter": "datum.g == 'G'"}], "mark": {"type": "text", "align": "left", "baseline": "alphabetic", "fontSize": 15, "color": "#8a8a8a"}, "encoding": {"text": {"field": "s", "type": "nominal"}}},
 {"data": {"name": "txt"}, "transform": [{"filter": "datum.g == 'D'"}], "mark": {"type": "text", "align": "left", "baseline": "alphabetic", "fontSize": 14, "color": "#777777"}, "encoding": {"text": {"field": "s", "type": "nominal"}}},
 {"data": {"name": "txt"}, "transform": [{"filter": "datum.g == 'R'"}], "mark": {"type": "text", "align": "left", "baseline": "alphabetic", "fontSize": 55, "color": "#2b3473"}, "encoding": {"text": {"field": "s", "type": "nominal"}}},
 {"data": {"name": "txt"}, "transform": [{"filter": "datum.g == 'Ra'"}], "mark": {"type": "text", "align": "left", "baseline": "alphabetic", "fontSize": 25, "color": "#5a5a5a"}, "encoding": {"text": {"field": "s", "type": "nominal"}}},
 {"data": {"name": "txt"}, "transform": [{"filter": "datum.g == 'Y'"}], "mark": {"type": "text", "align": "right", "baseline": "alphabetic", "fontSize": 14, "color": "#222222"}, "encoding": {"text": {"field": "s", "type": "nominal"}}},
 {"data": {"name": "txt"}, "transform": [{"filter": "datum.g == 'C'"}], "mark": {"type": "text", "align": "center", "baseline": "middle", "fontSize": 14, "color": "#333333"}, "encoding": {"text": {"field": "s", "type": "nominal"}}},
 {"data": {"name": "txt"}, "transform": [{"filter": "datum.g == 'N'"}], "mark": {"type": "text", "align": "center", "baseline": "middle", "fontSize": 14, "color": "#6aa7d3"}, "encoding": {"text": {"field": "s", "type": "nominal"}}},
 {"data": {"name": "txt"}, "transform": [{"filter": "datum.g == 'P'"}], "mark": {"type": "text", "align": "center", "baseline": "middle", "fontSize": 15, "color": "#333333"}, "encoding": {"text": {"field": "s", "type": "nominal"}, "angle": {"field": "p", "type": "quantitative", "scale": {"domain": [10, 30, 40, 50, 60, 70, 80, 90], "range": [-59, -29, -22, -18, -15, -13, -12, -11]}, "legend": null}}},
 {"data": {"name": "txt"}, "transform": [{"filter": "datum.g == 'E'"}], "mark": {"type": "text", "align": "center", "baseline": "middle", "fontSize": 14, "color": "#333333", "angle": 35}, "encoding": {"text": {"field": "s", "type": "nominal"}}},
 {"data": {"name": "txt"}, "transform": [{"filter": "datum.g == 'L'"}], "mark": {"type": "text", "align": "center", "baseline": "middle", "fontSize": 17, "color": "#222222", "angle": -34}, "encoding": {"text": {"field": "s", "type": "nominal"}}},
 {"data": {"name": "txt"}, "transform": [{"filter": "datum.g == 'Le'"}], "mark": {"type": "text", "align": "center", "baseline": "middle", "fontSize": 17, "color": "#8a8a8a", "angle": -34}, "encoding": {"text": {"field": "s", "type": "nominal"}}},
 {"data": {"name": "txt"}, "transform": [{"filter": "datum.g == 'H'"}], "mark": {"type": "text", "align": "center", "baseline": "middle", "fontSize": 15, "color": "#222222", "angle": 36}, "encoding": {"text": {"field": "s", "type": "nominal"}}},
 {"data": {"name": "txt"}, "transform": [{"filter": "datum.g == 'He'"}], "mark": {"type": "text", "align": "center", "baseline": "middle", "fontSize": 15, "color": "#8a8a8a", "angle": 36}, "encoding": {"text": {"field": "s", "type": "nominal"}}},
 {"data": {"name": "ann"}, "transform": [{"filter": "datum.f == 's'"}], "mark": {"type": "rule", "color": "#ff0000", "strokeWidth": 3.5}, "encoding": {"x2": {"field": "x2"}, "y2": {"field": "t2"}}},
 {"data": {"name": "ann"}, "transform": [{"filter": "datum.f == 'd'"}], "mark": {"type": "rule", "color": "#ff0000", "strokeWidth": 3.5, "strokeDash": [16, 9]}, "encoding": {"x2": {"field": "x2"}, "y2": {"field": "t2"}}},
 {"data": {"name": "ell"}, "mark": {"type": "point", "shape": "M -1 0 A 1 0.75 0 1 1 1 0 A 1 0.75 0 1 1 -1 0 Z", "size": 5184, "filled": false, "color": "#ff0000", "strokeWidth": 4, "opacity": 1}},
 {"data": {"name": "txt"}, "transform": [{"filter": "datum.g == 'Bd'"}], "mark": {"type": "text", "align": "left", "baseline": "alphabetic", "fontSize": 27, "font": "Open Sans", "color": "#000000"}, "encoding": {"text": {"field": "s", "type": "nominal"}}}
]
}
